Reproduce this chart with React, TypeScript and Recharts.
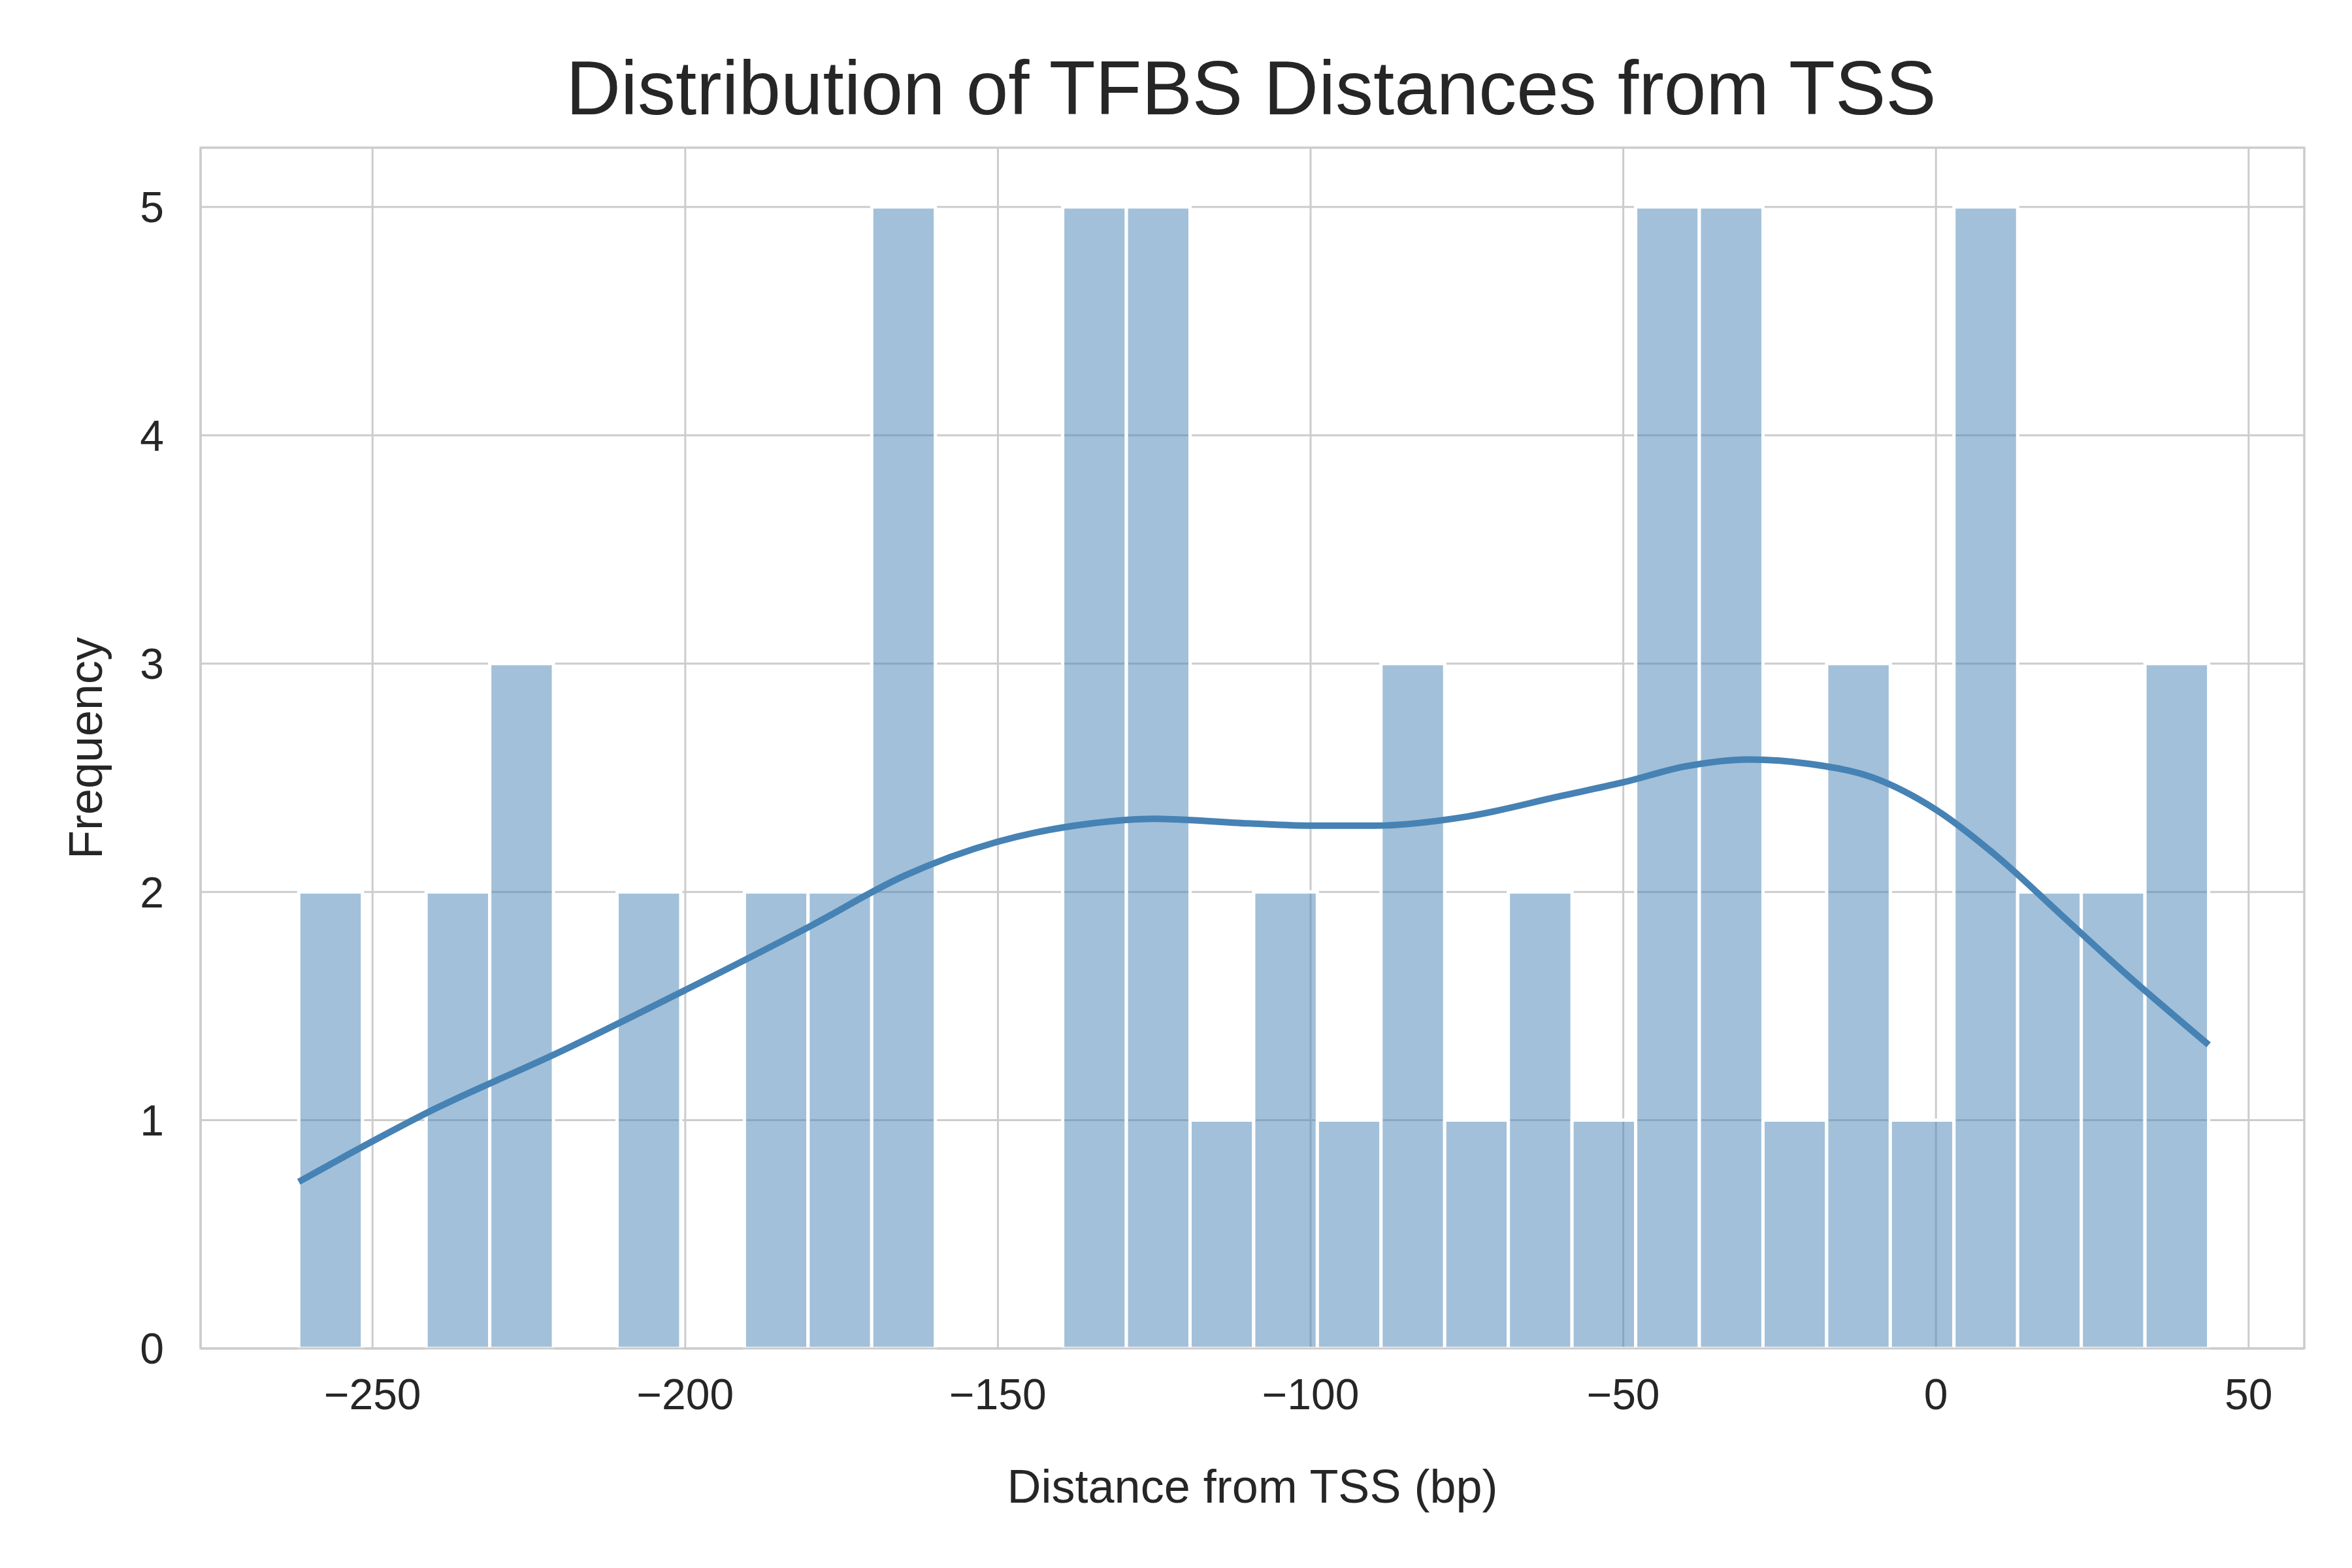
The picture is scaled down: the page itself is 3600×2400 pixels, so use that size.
import * as React from 'react';
import { ComposedChart, Line, XAxis, YAxis, CartesianGrid, ReferenceArea } from 'recharts';

const binStart = -261.8;
const binWidth = 10.18;
const binCounts = [2, 0, 2, 3, 0, 2, 0, 2, 2, 5, 0, 0, 5, 5, 1, 2, 1, 3, 1, 2, 1, 5, 5, 1, 3, 1, 5, 2, 2, 3];

const kdeX = [-261.8, -240, -220, -200, -180, -165, -150, -135, -125, -110, -100, -90, -75, -60, -50, -40, -30, -20, -10, 0, 10, 20, 30, 43.6];
const kdeY = [0.73, 1.05, 1.3, 1.57, 1.85, 2.07, 2.22, 2.3, 2.32, 2.3, 2.29, 2.29, 2.33, 2.42, 2.48, 2.55, 2.58, 2.56, 2.5, 2.36, 2.15, 1.9, 1.65, 1.33];

const xTicks = [-250, -200, -150, -100, -50, 0, 50];
const yTicks = [0, 1, 2, 3, 4, 5];
const xDomain: [number, number] = [-277.5, 58.9];
const yDomain: [number, number] = [0, 5.26];

const kdeData = kdeX.map((x, i) => ({ x, y: kdeY[i] }));
const font = '"Liberation Sans", Arial, sans-serif';

export default function App(): React.JSX.Element {
  return (
    <div style={{ position: 'fixed', left: 0, top: 0, width: 3600, height: 2400, background: '#fff', fontFamily: font }}>
      <div style={{ position: 'absolute', top: 68, width: 3600, textAlign: 'center', fontSize: 116, color: '#262626', paddingLeft: 230, boxSizing: 'border-box' }}>
        Distribution of TFBS Distances from TSS
      </div>
      <ComposedChart width={3600} height={2400} margin={{ top: 226, right: 73, left: 0, bottom: 0 }} data={kdeData}>
        <CartesianGrid stroke="#cccccc" strokeWidth={3} />
        <XAxis
          type="number"
          dataKey="x"
          domain={xDomain}
          ticks={xTicks}
          allowDataOverflow
          height={336}
          tickLine={false}
          axisLine={{ stroke: '#cccccc', strokeWidth: 3 }}
          tickMargin={40}
          tick={{ fontSize: 66, fill: '#262626', fontFamily: font }}
          tickFormatter={(v: number) => String(v).replace('-', '\u2212')}
          label={{ value: 'Distance from TSS (bp)', position: 'insideBottom', offset: 100, fontSize: 72, fill: '#262626', fontFamily: font }}
        />
        <YAxis
          type="number"
          domain={yDomain}
          ticks={yTicks}
          allowDataOverflow
          width={307}
          tickLine={false}
          axisLine={{ stroke: '#cccccc', strokeWidth: 3 }}
          tickMargin={50}
          tick={{ fontSize: 66, fill: '#262626', fontFamily: font }}
          label={{ value: 'Frequency', angle: -90, position: 'insideLeft', offset: 130, fontSize: 72, fill: '#262626', fontFamily: font, style: { textAnchor: 'middle' } }}
        />
        <ReferenceArea x1={xDomain[0]} x2={xDomain[1]} y1={yDomain[0]} y2={yDomain[1]} fill="none" stroke="#cccccc" strokeWidth={3} ifOverflow="visible" />
        {binCounts.map((c, i) =>
          c > 0 ? (
            <ReferenceArea
              key={i}
              x1={binStart + i * binWidth}
              x2={binStart + (i + 1) * binWidth}
              y1={0}
              y2={c}
              fill="#4682b4"
              fillOpacity={0.5}
              stroke="#ffffff"
              strokeWidth={5}
            />
          ) : null
        )}
        <Line type="monotone" dataKey="y" stroke="#4682b4" strokeWidth={10} dot={false} isAnimationActive={false} />
      </ComposedChart>
    </div>
  );
}
